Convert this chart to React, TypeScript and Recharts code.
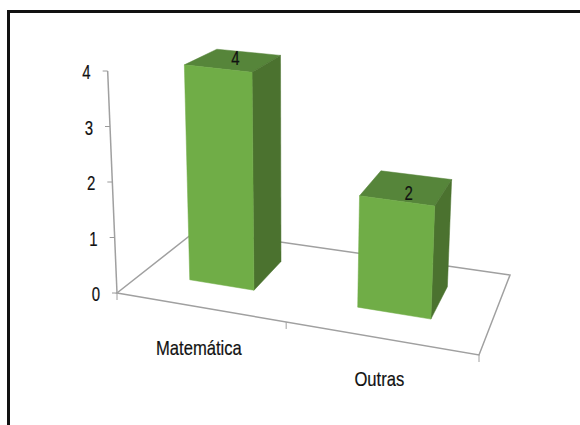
import React from 'react';
import { BarChart, Bar, XAxis, YAxis, LabelList } from 'recharts';

const categories = ['Matemática', 'Outras'];
const counts = [4, 2];
const valueTicks = [0, 1, 2, 3, 4];

const chartData = categories.map((name, i) => ({ name, value: counts[i] }));

const WIDTH = 580;
const HEIGHT = 425;
const PLOT = { left: 117, right: 479, top: 71, bottom: 293 };
const LABEL_FONT = '"Liberation Sans", sans-serif';
const LABEL_SIZE = 20;

// Floor corners of the 3D box
const FRONT_LEFT = { x: 117, y: 293 };
const FRONT_RIGHT = { x: 479, y: 355 };
const BACK_RIGHT = { x: 510, y: 275 };
const BACK_LEFT = { x: 197, y: 230 };

// Depth of the bars on the floor, 0 = front edge, 1 = back edge
const BAR_FRONT = 0.33;
const BAR_BACK = 0.75;

// Position along the floor's width, foreshortened towards the far end
const warp = (t: number) => t / (t + 1.14 * (1 - t));

const floorPoint = (t: number, v: number) => {
  const u = warp(t);
  const frontX = FRONT_LEFT.x + u * (FRONT_RIGHT.x - FRONT_LEFT.x);
  const frontY = FRONT_LEFT.y + u * (FRONT_RIGHT.y - FRONT_LEFT.y);
  const backX = BACK_LEFT.x + u * (BACK_RIGHT.x - BACK_LEFT.x);
  const backY = BACK_LEFT.y + u * (BACK_RIGHT.y - BACK_LEFT.y);
  return { x: frontX + v * (backX - frontX), y: frontY + v * (backY - frontY) };
};

// Raises a floor point by a pixel height from the value scale; verticals converge slightly
const lift = (t: number, v: number, px: number) => {
  const p = floorPoint(t, v);
  const units = px / 55.5;
  const rise = px * (1 - (7 * v) / 55.5 + (4 * warp(t)) / 55.5);
  return { x: p.x + units * 0.0135 * (p.x - 290), y: p.y - rise };
};

const toPoints = (pts: { x: number; y: number }[]) => pts.map((p) => `${p.x},${p.y}`).join(' ');

const plotT = (x: number) => (x - PLOT.left) / (PLOT.right - PLOT.left);

// Condensed text: no narrow face is available, so the regular one is squeezed
const NarrowText = ({ x, y, anchor, squeeze, children }: any) => (
  <text
    transform={`translate(${x},${y}) scale(${squeeze},1)`}
    textAnchor={anchor}
    fontFamily={LABEL_FONT}
    fontSize={LABEL_SIZE}
    fill="#111"
    stroke="#111"
    strokeWidth={0.2}
  >
    {children}
  </text>
);

const Box3D = (props: any) => {
  const { x, width, height } = props;
  const t0 = plotT(x);
  const t1 = plotT(x + width);
  const a = lift(t0, BAR_FRONT, height);
  const b = lift(t1, BAR_FRONT, height);
  const c = lift(t1, BAR_BACK, height);
  const d = lift(t0, BAR_BACK, height);
  const e = floorPoint(t0, BAR_FRONT);
  const f = floorPoint(t1, BAR_FRONT);
  const g = floorPoint(t1, BAR_BACK);
  return (
    <g>
      <polygon points={toPoints([a, b, c, d])} fill="#56853a" stroke="#56853a" strokeWidth={0.5} />
      <polygon points={toPoints([b, c, g, f])} fill="#4b722f" stroke="#4b722f" strokeWidth={0.5} />
      <polygon points={toPoints([a, b, f, e])} fill="#70ad47" stroke="#70ad47" strokeWidth={0.5} />
    </g>
  );
};

const TopLabel = (props: any) => {
  const { x, width, height, value } = props;
  const t0 = plotT(x);
  const t1 = plotT(x + width);
  const a = lift(t0, BAR_FRONT, height);
  const c = lift(t1, BAR_BACK, height);
  return (
    <NarrowText x={(a.x + c.x) / 2 + 3} y={(a.y + c.y) / 2 + 19 - height * 0.063} anchor="middle" squeeze={0.75}>
      {value}
    </NarrowText>
  );
};

const ValueTick = (props: any) => {
  const { y, payload } = props;
  const p = lift(0, 0, PLOT.bottom - y);
  return (
    <g>
      <line x1={p.x - 5} y1={y} x2={p.x} y2={y} stroke="#9a9a9a" strokeWidth={1} />
      <NarrowText x={p.x - 17} y={y + 8} anchor="end" squeeze={0.75}>
        {payload.value}
      </NarrowText>
    </g>
  );
};

const CategoryTick = (props: any) => {
  const { x, payload } = props;
  const p = floorPoint(plotT(x), 0);
  return (
    <NarrowText x={p.x} y={p.y + 48} anchor="middle" squeeze={0.83}>
      {payload.value}
    </NarrowText>
  );
};

// Floor outline, the slanted value axis and the tick marks along the front edge
const Floor = () => {
  const top = lift(0, 0, PLOT.bottom - PLOT.top);
  return (
    <g>
      <polygon
        points={toPoints([FRONT_LEFT, FRONT_RIGHT, BACK_RIGHT, BACK_LEFT])}
        fill="#fff"
        stroke="#a0a0a0"
        strokeWidth={1.5}
      />
      <line x1={FRONT_LEFT.x} y1={FRONT_LEFT.y} x2={top.x} y2={top.y} stroke="#a0a0a0" strokeWidth={1.5} />
      {[0, 0.5, 1].map((t) => {
        const p = floorPoint(t, 0);
        return <line key={t} x1={p.x} y1={p.y} x2={p.x} y2={p.y + 7} stroke="#a0a0a0" strokeWidth={1} />;
      })}
    </g>
  );
};

export default function App() {
  return (
    <div style={{ position: 'fixed', left: 0, top: 0, width: WIDTH, height: HEIGHT, background: '#fff' }}>
      <BarChart
        width={WIDTH}
        height={HEIGHT}
        data={chartData}
        barCategoryGap="30%"
        margin={{ left: PLOT.left - 1, right: WIDTH - PLOT.right, top: PLOT.top, bottom: HEIGHT - PLOT.bottom - 1 }}
      >
        <Floor />
        <XAxis dataKey="name" height={1} axisLine={false} tickLine={false} tick={(p: any) => <CategoryTick {...p} />} interval={0} />
        <YAxis
          width={1}
          domain={[0, 4]}
          ticks={valueTicks}
          axisLine={false}
          tickLine={false}
          tick={(p: any) => <ValueTick {...p} />}
        />
        <Bar dataKey="value" shape={<Box3D />} isAnimationActive={false}>
          <LabelList dataKey="value" content={<TopLabel />} />
        </Bar>
      </BarChart>
      <div
        style={{
          position: 'absolute',
          left: 7,
          top: 10,
          width: 573,
          height: 415,
          borderTop: '3px solid #111',
          borderLeft: '3px solid #111',
          boxSizing: 'border-box',
          pointerEvents: 'none',
        }}
      />
    </div>
  );
}
